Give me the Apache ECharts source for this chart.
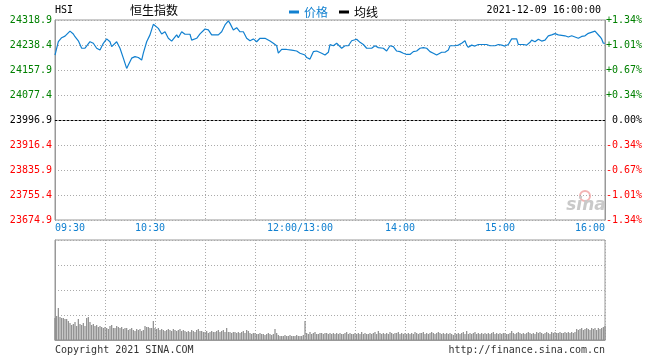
<!DOCTYPE html>
<html><head><meta charset="utf-8">
<script src="https://cdn.jsdelivr.net/npm/echarts@6/dist/echarts.min.js"></script>
<style>html,body{margin:0;padding:0;background:#fff}#c{width:660px;height:360px}</style>
</head><body><div id="c"></div>
<script>
const prevClose = 23996.9;
const priceStep = 80.5;
const timeLabels = {0:'09:30',60:'10:30',150:'12:00/13:00',210:'14:00',270:'15:00',330:'16:00'};
// minutes since 09:30 (lunch break removed)
const minutes = [0,2,4,6,9,11,12,14,16,18,21,23,25,27,29,31,33,34,37,38,39,41,43,44,46,48,50,52,53,55,57,59,60,62,64,66,68,70,73,74,76,78,81,82,83,85,87,90,92,94,98,100,102,104,105,107,109,111,113,115,117,119,121,123,126,129,131,133,134,136,139,142,145,147,150,151,153,155,157,160,162,164,165,167,169,170,172,174,176,178,179,181,183,185,187,190,192,194,197,199,201,203,205,207,209,211,213,215,217,219,221,223,225,227,229,232,234,236,237,240,242,244,246,247,248,250,252,254,259,261,264,266,268,270,272,274,277,278,281,283,285,286,288,290,292,294,296,298,300,302,303,306,308,310,312,314,316,318,320,321,324,325,327,328,329,330];
const prices = [24206,24249,24262,24267,24283,24274,24265,24252,24228,24228,24249,24244,24228,24222,24244,24258,24249,24233,24249,24244,24228,24196,24163,24174,24196,24201,24198,24190,24212,24249,24271,24305,24308,24292,24274,24281,24260,24251,24271,24262,24281,24273,24273,24254,24254,24260,24274,24290,24287,24271,24271,24281,24303,24316,24308,24287,24294,24281,24281,24260,24252,24258,24249,24260,24260,24251,24244,24236,24212,24224,24224,24222,24219,24212,24206,24198,24193,24217,24219,24212,24206,24215,24240,24236,24244,24240,24228,24236,24236,24252,24247,24257,24247,24240,24228,24228,24236,24230,24228,24219,24236,24233,24219,24217,24212,24208,24208,24217,24219,24228,24230,24228,24217,24212,24206,24215,24215,24222,24236,24236,24238,24244,24252,24238,24231,24238,24235,24240,24240,24236,24236,24240,24238,24235,24240,24258,24258,24240,24240,24238,24247,24254,24249,24257,24251,24254,24268,24271,24275,24271,24266,24268,24264,24268,24264,24260,24266,24268,24276,24271,24283,24278,24265,24258,24244,24244];
// per-minute volume (relative units, axis max 100)
const volumes = [
22,24,32,23,22,22,21,21,19,17,
15,16,18,14,21,16,15,17,14,22,
23,18,15,16,14,15,13,14,13,12,
13,12,11,14,15,12,12,14,13,12,
13,11,12,12,10,11,12,10,9,11,
10,11,9,10,14,13,13,12,12,19,
12,11,12,10,11,10,9,10,11,10,
9,11,10,9,10,11,9,10,9,8,
9,8,10,9,8,10,11,9,9,8,
8,9,7,8,9,8,8,9,10,8,
9,10,8,12,8,8,7,8,8,7,
8,7,8,9,7,10,9,7,6,7,
7,6,6,7,6,6,5,6,7,6,
5,6,11,7,5,4,4,4,5,4,
4,5,4,4,4,5,4,4,4,5,
19,7,6,8,6,7,8,6,6,7,
7,6,7,7,6,7,6,7,6,7,
6,7,6,6,7,8,6,7,6,6,
7,6,7,6,8,6,7,6,6,7,
6,7,8,6,9,7,6,7,6,7,
6,8,7,6,7,7,8,6,7,6,
7,6,7,6,7,6,8,7,6,7,
7,8,6,7,6,7,8,7,6,7,
8,7,6,7,6,7,6,7,6,5,
7,6,7,6,7,8,6,9,6,7,
6,7,8,6,7,6,7,6,7,6,
7,6,7,8,6,7,6,7,6,7,
7,6,6,7,9,7,6,7,8,7,
6,7,6,7,8,7,6,7,6,8,
7,8,7,6,7,8,7,6,8,7,
8,7,7,8,7,7,8,7,8,7,
8,7,8,11,10,11,12,10,11,12,
11,10,12,11,12,10,12,11,12,13,
14];

const MONO = 'DejaVu Sans Mono';
const CJK = '"Noto Sans CJK SC"';
const BLUE = '#1180d0';
const GREEN = '#008000';
const RED = '#ff0000';
const FRAME = '#999';
const GRID = '#aaa';

function sideColor(v){ if (Math.abs(v) < 1e-6) return '#000'; return v > 0 ? GREEN : RED; }
function pct(v){ const p = v / prevClose * 100; if (Math.abs(p) < 1e-9) return '0.00%'; return (p > 0 ? '+' : '') + p.toFixed(2) + '%'; }

const chart = echarts.init(document.getElementById('c'), null, {renderer:'canvas'});
const range = priceStep * 4;
const xBase = {type:'value', min:0, max:330, interval:30,
  axisLine:{show:true, lineStyle:{color:FRAME}}, axisTick:{show:false},
  splitLine:{show:true, lineStyle:{color:GRID, type:[1,2]}}};
chart.setOption({
  animation:false,
  textStyle:{fontFamily:MONO},
  legend:{left:284, top:0, icon:'rect', itemWidth:10, itemHeight:3, itemGap:11,
    textStyle:{fontFamily:CJK, fontSize:12, lineHeight:14},
    data:[{name:'价格', textStyle:{color:BLUE}},{name:'均线', textStyle:{color:'#000'}}]},
  graphic:[
    {type:'text', x:55, y:10, style:{text:'HSI', font:'10px '+MONO, fill:'#000', align:'left', verticalAlign:'middle'}},
    {type:'text', x:130, y:10, style:{text:'恒生指数', font:'12px '+CJK, fill:'#000', align:'left', verticalAlign:'middle'}},
    {type:'text', x:601, y:10, style:{text:'2021-12-09 16:00:00', font:'10px '+MONO, fill:'#000', align:'right', verticalAlign:'middle'}},
    {type:'text', x:55, y:350, style:{text:'Copyright 2021 SINA.COM', font:'10px '+MONO, fill:'#333', align:'left', verticalAlign:'middle'}},
    {type:'text', x:605, y:350, style:{text:'http://finance.sina.com.cn', font:'10px '+MONO, fill:'#333', align:'right', verticalAlign:'middle'}},
    {type:'circle', shape:{cx:585, cy:196, r:5}, style:{fill:'none', stroke:'#f3b3b3', lineWidth:2}},
    {type:'text', x:586, y:206, style:{text:'sina', font:'italic bold 17px "DejaVu Sans"', fill:'#c9c9c9', align:'center', verticalAlign:'middle'}}
  ],
  grid:[
    {left:55, top:20, width:550, height:200, show:true, borderColor:FRAME, borderWidth:1},
    {left:55, top:240, width:550, height:100, show:true, borderColor:FRAME, borderWidth:1}
  ],
  xAxis:[
    Object.assign({}, xBase, {gridIndex:0,
      axisLabel:{show:true, margin:3, showMinLabel:true, showMaxLabel:true, alignMinLabel:'left', alignMaxLabel:'right', hideOverlap:false,
        formatter:function(v){ const t = timeLabels[Math.round(v)]; if (!t) return ''; return (v === 0 || v === 330) ? '{e|' + t + '}' : '{m|' + t + '}'; },
        rich:{e:{fontFamily:MONO, fontSize:10, color:BLUE}, m:{fontFamily:MONO, fontSize:10, color:BLUE, padding:[0,10,0,0]}}}}),
    Object.assign({}, xBase, {gridIndex:1, axisLabel:{show:false}})
  ],
  yAxis:[
    {type:'value', gridIndex:0, position:'left', min:-range, max:range, interval:priceStep,
      axisLine:{show:true, lineStyle:{color:FRAME}}, axisTick:{show:false},
      splitLine:{show:true, lineStyle:{color:GRID, type:[1,2]}},
      axisLabel:{margin:3, fontFamily:MONO, fontSize:10, padding:[0,0,6,0], color:sideColor,
        formatter:function(v){ return (v + prevClose).toFixed(1); }}},
    {type:'value', gridIndex:0, position:'right', min:-range, max:range, interval:priceStep,
      axisLine:{show:true, lineStyle:{color:FRAME}}, axisTick:{show:false}, splitLine:{show:false},
      axisLabel:{margin:37, align:'right', fontFamily:MONO, fontSize:10, padding:[0,0,6,0], color:sideColor, formatter:pct}},
    {type:'value', gridIndex:1, min:0, max:100, interval:25,
      axisLine:{show:true, lineStyle:{color:FRAME}}, axisTick:{show:false}, axisLabel:{show:false},
      splitLine:{show:true, lineStyle:{color:GRID, type:[1,2]}}}
  ],
  series:[
    {name:'价格', type:'line', xAxisIndex:0, yAxisIndex:0, symbol:'none', color:BLUE,
      lineStyle:{width:1.2, color:BLUE},
      data:minutes.map(function(m,i){ return [m, prices[i] - prevClose]; }),
      markLine:{silent:true, symbol:'none', label:{show:false}, lineStyle:{color:'#000', type:[2,2], width:1},
        data:[{yAxis:0}]}},
    {name:'均线', type:'line', xAxisIndex:0, yAxisIndex:0, symbol:'none', color:'#000', data:[]},
    {name:'成交量', type:'bar', xAxisIndex:1, yAxisIndex:2, barWidth:1.2, itemStyle:{color:'#8c8c8c'},
      data:volumes.map(function(v,i){ return [i, v]; })}
  ]
});
</script>
</body></html>
